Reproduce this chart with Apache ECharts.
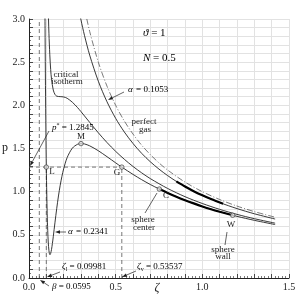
<!DOCTYPE html>
<html><head><meta charset="utf-8">
<script src="https://cdn.jsdelivr.net/npm/echarts@6/dist/echarts.min.js"></script>
<style>html,body{margin:0;padding:0;background:#fff}#c{width:299px;height:299px}</style>
</head><body><div id="c"></div>
<script>
// ---- data ----
const perfectZeta = [0.32,0.35,0.40,0.45,0.50,0.55,0.60,0.65,0.70,0.75,0.80,0.90,1.00,1.10,1.20,1.30,1.42];
const perfectP    = [3.125,2.857,2.500,2.222,2.000,1.818,1.667,1.538,1.429,1.333,1.250,1.111,1.000,0.909,0.833,0.769,0.704];

const alpha1Zeta = [0.28,0.30,0.32,0.35,0.40,0.45,0.50,0.55,0.60,0.65,0.70,0.75,0.80,0.85,0.90,1.00,1.10,1.20,1.30,1.42];
const alpha1P    = [3.192,2.988,2.811,2.582,2.279,2.041,1.849,1.691,1.558,1.444,1.346,1.261,1.186,1.119,1.060,0.958,0.874,0.804,0.744,0.683];

const criticalZeta = [0.108,0.110,0.1125,0.115,0.120,0.125,0.130,0.140,0.150,0.160,0.180,0.200,0.220,0.250,0.280,0.300,0.350,0.400,0.450,0.500,0.550,0.600,0.650,0.700,0.800,0.900,1.000,1.100,1.200,1.300,1.420];
const criticalP    = [3.404,3.207,3.000,2.835,2.585,2.416,2.302,2.177,2.126,2.106,2.101,2.097,2.082,2.036,1.974,1.927,1.803,1.682,1.569,1.467,1.375,1.292,1.218,1.151,1.037,0.942,0.863,0.795,0.737,0.687,0.635];

const alpha2Zeta = [0.0915,0.093,0.095,0.0975,0.09981,0.1025,0.105,0.108,0.111,0.115,0.118,0.121,0.125,0.130,0.135,0.140,0.150,0.160,0.170,0.180,0.190,0.200,0.220,0.250,0.280,0.300,0.320,0.350,0.400,0.450,0.500,0.53537,0.600,0.650,0.700,0.752,0.800,0.900,1.000,1.100,1.175,1.200,1.300,1.420];
const alpha2P    = [3.29,2.784,2.230,1.690,1.2845,0.974,0.744,0.549,0.417,0.317,0.281,0.270,0.285,0.332,0.400,0.478,0.646,0.805,0.950,1.074,1.178,1.265,1.394,1.504,1.549,1.557,1.553,1.531,1.474,1.405,1.334,1.2845,1.200,1.139,1.083,1.030,0.985,0.901,0.829,0.768,0.727,0.714,0.668,0.619];

const thick1Zeta = [0.85,0.90,0.95,1.00,1.05,1.12];
const thick1P    = [1.119,1.060,1.006,0.958,0.914,0.859];
const thick2Zeta = [0.752,0.80,0.85,0.90,0.95,1.00,1.05,1.10,1.175];
const thick2P    = [1.030,0.985,0.941,0.901,0.864,0.829,0.797,0.768,0.727];

const pointNames = ['L','M','G','C','W'];
const pointZeta  = [0.09981,0.30,0.53537,0.752,1.175];
const pointP     = [1.2845,1.557,1.2845,1.030,0.727];

const beta = 0.0595, zetaL = 0.09981, zetaV = 0.53537, pStar = 1.2845;
const xTicks = [0.0,0.5,1.0,1.5];
const yTicks = [0.0,0.5,1.0,1.5,2.0,2.5,3.0];

const zip = (a,b) => a.map((v,i)=>[v,b[i]]);
const SERIF = 'Liberation Serif';
const INK = '#222';

const chart = echarts.init(document.getElementById('c'), null, {renderer:'canvas'});

const isTick = (arr,v) => arr.some(t=>Math.abs(t-v)<1e-6);

function curve(name, data, extra) {
  return Object.assign({
    type:'line', name, data, showSymbol:false, symbol:'none', smooth:0.3,
    lineStyle:{color:INK, width:0.9}, silent:true, animation:false, z:3
  }, extra||{});
}
const dashStyle = {color:'#555', width:0.8, type:[4,3]};

const option = {
  animation:false,
  grid:{left:29, top:19, right:10, bottom:21, containLabel:false},
  xAxis:{
    type:'value', min:0, max:1.5, interval:0.1,
    axisLine:{show:true, onZero:false, lineStyle:{color:INK, width:1}},
    axisTick:{show:true, inside:true, length:4, lineStyle:{color:INK, width:0.8}},
    minorTick:{show:true, splitNumber:5, length:2, lineStyle:{color:INK, width:0.6}},
    splitLine:{show:true, lineStyle:{color:'#e2e2e2', width:1}},
    axisLabel:{margin:4, fontFamily:SERIF, fontSize:10, color:INK,
      formatter:v=>isTick(xTicks,v)?v.toFixed(1):''}
  },
  yAxis:{
    type:'value', min:0, max:3, interval:0.1,
    axisLine:{show:true, onZero:false, lineStyle:{color:INK, width:1}},
    axisTick:{show:true, inside:true, length:4, lineStyle:{color:INK, width:0.8}},
    minorTick:{show:true, splitNumber:2, length:2, lineStyle:{color:INK, width:0.6}},
    splitLine:{show:true, lineStyle:{color:'#e2e2e2', width:1}},
    axisLabel:{margin:4, fontFamily:SERIF, fontSize:10, color:INK,
      formatter:v=>isTick(yTicks,v)?v.toFixed(1):''}
  },
  series:[
    curve('beta', [[beta,0],[beta,3]], {smooth:false, lineStyle:dashStyle, z:2}),
    curve('pstar', [[0,pStar],[zetaV,pStar]], {smooth:false, lineStyle:dashStyle, z:2}),
    curve('zetaL', [[zetaL,0],[zetaL,pStar]], {smooth:false, lineStyle:dashStyle, z:2}),
    curve('zetaV', [[zetaV,0],[zetaV,pStar]], {smooth:false, lineStyle:dashStyle, z:2}),
    curve('perfect gas', zip(perfectZeta,perfectP), {lineStyle:{color:'#444', width:0.7, type:[6,2,1,2]}}),
    curve('alpha 0.1053', zip(alpha1Zeta,alpha1P)),
    curve('critical isotherm', zip(criticalZeta,criticalP)),
    curve('alpha 0.2341', zip(alpha2Zeta,alpha2P)),
    curve('thick1', zip(thick1Zeta,thick1P), {lineStyle:{color:'#000', width:2.2}, z:4}),
    curve('thick2', zip(thick2Zeta,thick2P), {lineStyle:{color:'#000', width:2.2}, z:4}),
    {type:'scatter', data:zip(pointZeta,pointP), symbol:'circle', symbolSize:4.5, silent:true, z:6,
     itemStyle:{color:'#dcdcdc', borderColor:'#333', borderWidth:0.8}}
  ]
};
chart.setOption(option);

// ---- annotations (pixel placement) ----
function txt(text, x, y, opts) {
  opts = opts||{};
  return {type:'text', z:10, silent:true, style:Object.assign({
    text, x, y, fill:INK, font:(opts.italic?'italic ':'')+(opts.size||9)+'px '+SERIF,
    textAlign:opts.align||'center', textVerticalAlign:'middle'}, opts.style||{})};
}
function ln(x1,y1,x2,y2) {
  return {type:'line', z:10, silent:true, shape:{x1,y1,x2,y2}, style:{stroke:INK, lineWidth:0.7}};
}
function arrow(x1,y1,x2,y2) {
  const dx=x2-x1, dy=y2-y1, L=Math.hypot(dx,dy), ux=dx/L, uy=dy/L, len=5, hw=1.8;
  const bx=x2-ux*len, by=y2-uy*len;
  return [ln(x1,y1,bx,by), {type:'polygon', z:10, silent:true,
    shape:{points:[[x2,y2],[bx-uy*hw,by+ux*hw],[bx+uy*hw,by-ux*hw]]}, style:{fill:INK}}];
}
const rich = {
  n:{fontFamily:SERIF, fontSize:9, color:INK},
  i:{fontFamily:SERIF, fontSize:9, fontStyle:'italic', color:INK},
  N:{fontFamily:SERIF, fontSize:11, color:INK},
  I:{fontFamily:SERIF, fontSize:11, fontStyle:'italic', color:INK},
  s:{fontFamily:SERIF, fontSize:6, color:INK, padding:[5,0,0,0]},
  u:{fontFamily:SERIF, fontSize:6, color:INK, padding:[0,0,5,0]}
};
function richTxt(text, x, y) {
  return {type:'text', z:10, silent:true, style:{text, x, y, rich, textAlign:'left', textVerticalAlign:'middle'}};
}

const els = [
  richTxt('{I|ϑ}{N| = 1}', 143, 33),
  richTxt('{I|N}{N| = 0.5}', 143, 58),
  txt('critical', 66, 75), txt('isotherm', 67, 82),
  richTxt('{i|α} {n|= 0.1053}', 128, 90),
  txt('perfect', 144, 122), txt('gas', 145, 130),
  richTxt('{i|p}{u|*}{n| = 1.2845}', 52, 128),
  txt('M', 81, 137), txt('L', 52, 172), txt('G', 117, 173), txt('C', 166, 196),
  txt('sphere', 143, 220), txt('center', 144, 228),
  richTxt('{i|α} {n|= 0.2341}', 68, 232),
  txt('W', 231, 225), txt('sphere', 223, 250), txt('wall', 223, 257),
  richTxt('{i|ζ}{s|l}{n| = 0.09981}', 62, 267),
  richTxt('{i|ζ}{s|v}{n| = 0.53537}', 137, 267),
  richTxt('{i|β}{n| = 0.0595}', 52, 287),
  txt('p', 5, 148, {size:12}),
  txt('ζ', 157, 288, {size:12, italic:true}),
  ...arrow(124,92,108,100),
  ...arrow(49,131,30,166),
  ...arrow(66,232,55,232),
  ...arrow(60,272,47,277),
  ...arrow(136,271,122,277),
  ...arrow(49,286,40,280),
  ln(145,213,157,193),
  ln(227,232,225,245)
];
chart.setOption({graphic:{elements:els}});
</script></body></html>
